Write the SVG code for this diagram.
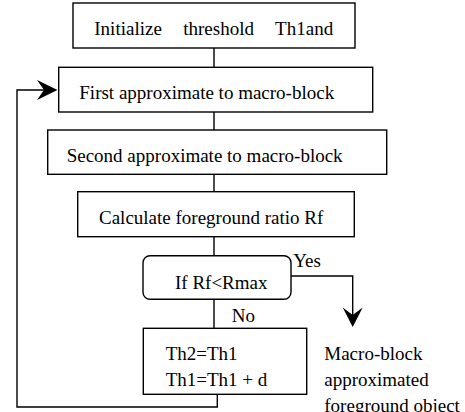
<svg xmlns="http://www.w3.org/2000/svg" width="465" height="412" viewBox="0 0 465 412">
<style>
.box{fill:#fff;stroke:#000;stroke-width:1.4}
.ln{fill:none;stroke:#000;stroke-width:1.4}
.ah{fill:#000;stroke:none}
text{font-family:"Liberation Serif","Times New Roman",serif;font-size:19px;fill:#000}
</style>
<rect width="465" height="412" fill="#fff"/>
<g id="connectors">
<path class="ln" d="M214 48V67.3M214 112V130M214 174.3V191.7M214 236.7V255.7M214 299.3V328.3"/>
<path class="ln" d="M217.3 394.3V407H17V90H46"/>
<path class="ah" d="M57.5 90L37 80L44 90L37 100Z"/>
<path class="ln" d="M291 276H352.7V316"/>
<path class="ah" d="M352.7 327L342.7 307.5L352.7 315L362.7 307.5Z"/>
<text x="293.3" y="266.7">Yes</text>
<text x="231.7" y="322.3">No</text>
</g>
<g id="init">
<rect class="box" x="73" y="3" width="282" height="45"/>
<text x="94.3" y="35" word-spacing="16.7">Initialize threshold Th1and</text>
</g>
<g id="first">
<rect class="box" x="58.7" y="67.3" width="314" height="44.7"/>
<text x="79.3" y="99">First approximate to macro-block</text>
</g>
<g id="second">
<rect class="box" x="47.7" y="130" width="339" height="44.3"/>
<text x="66.7" y="161.7">Second approximate to macro-block</text>
</g>
<g id="calc">
<rect class="box" x="77.7" y="191.7" width="276.6" height="45"/>
<text x="99" y="224">Calculate foreground ratio Rf</text>
</g>
<g id="decision">
<rect class="box" x="143" y="255.7" width="148" height="43.6" rx="7"/>
<text x="175" y="289.3">If Rf&lt;Rmax</text>
</g>
<g id="update">
<rect class="box" x="143.3" y="328.3" width="163.4" height="66"/>
<text x="165.7" y="360">Th2=Th1</text>
<text x="165.7" y="386">Th1=Th1 + d</text>
</g>
<g id="result">
<text x="324.3" y="360">Macro-block</text>
<text x="324.3" y="386">approximated</text>
<text x="324.3" y="412">foreground object</text>
</g>
</svg>
